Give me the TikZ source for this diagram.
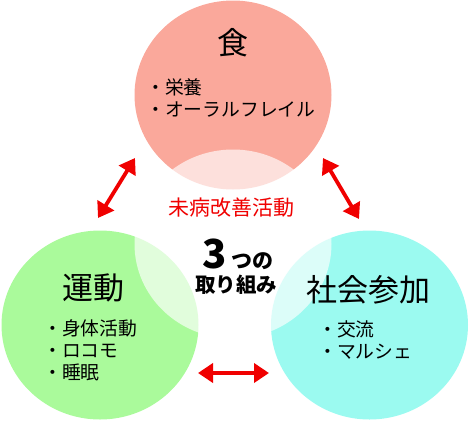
\documentclass[tikz,border=0pt]{standalone}
\usepackage{fontspec}
\setmainfont{Noto Sans CJK JP}
\usetikzlibrary{arrows.meta,shapes.geometric}
\definecolor{Salmon}{RGB}{250,168,155}
\definecolor{Lime}{RGB}{170,250,155}
\definecolor{Aqua}{RGB}{155,250,240}
\definecolor{Alert}{RGB}{240,0,0}
\tikzset{
  blob/.style={ellipse,minimum width=197pt,minimum height=189pt,inner sep=0pt},
  foodblob/.style={blob,fill=Salmon},
  moveblob/.style={blob,fill=Lime},
  socialblob/.style={blob,fill=Aqua},
  haze/.style={blob,fill=white,fill opacity=0.65},
  heading/.style={font=\fontsize{31}{31}\selectfont},
  itemlist/.style={font=\fontsize{18.8}{22}\selectfont,align=left,anchor=west,inner sep=0pt},
  link/.style={{Triangle[length=15pt,width=19pt]}-{Triangle[length=15pt,width=19pt]},line width=3.8pt,draw=Alert}
}
\begin{document}
\begin{tikzpicture}[x=1pt,y=-1pt]
\useasboundingbox (0,0) rectangle (469,421);
% three fields
\node[foodblob] (food) at (233,95) {};
\node[moveblob] (move) at (100,325) {};
\node[socialblob] (social) at (369.5,325) {};
\node[haze] (core) at (233,244) {};
% headings and items
\node[heading] (foodtitle) at (233,43) {食};
\node[itemlist] (fooditems) at (146,97.5) {・栄養\\・オーラルフレイル};
\node[heading] (movetitle) at (93,288) {運動};
\node[itemlist] (moveitems) at (43,350.5) {・身体活動\\・ロコモ\\・睡眠};
\node[heading] (socialtitle) at (368,290) {社会参加};
\node[itemlist] (socialitems) at (318,340.5) {・交流\\・マルシェ};
% centre
\node[text=Alert,font=\fontsize{21}{21}\selectfont] (motto) at (231,208) {未病改善活動};
\node[anchor=base west,inner sep=0pt,font=\bfseries\fontsize{40}{40}\selectfont] (three) at (202,268) {3};
\node[anchor=base west,inner sep=0pt,font=\bfseries\fontsize{21}{21}\selectfont] (tsuno) at (231,268) {つの};
\node[font=\bfseries\fontsize{20.5}{20.5}\selectfont] (theme) at (236,285) {取り組み};
% links
\coordinate (fl) at (135,158); \coordinate (ml) at (98,218);
\coordinate (fr) at (323,158); \coordinate (sr) at (359,219);
\coordinate (mb) at (198,373); \coordinate (sb) at (269,373);
\draw[link] (fl) -- (ml);
\draw[link] (fr) -- (sr);
\draw[link] (mb) -- (sb);
\end{tikzpicture}
\end{document}
